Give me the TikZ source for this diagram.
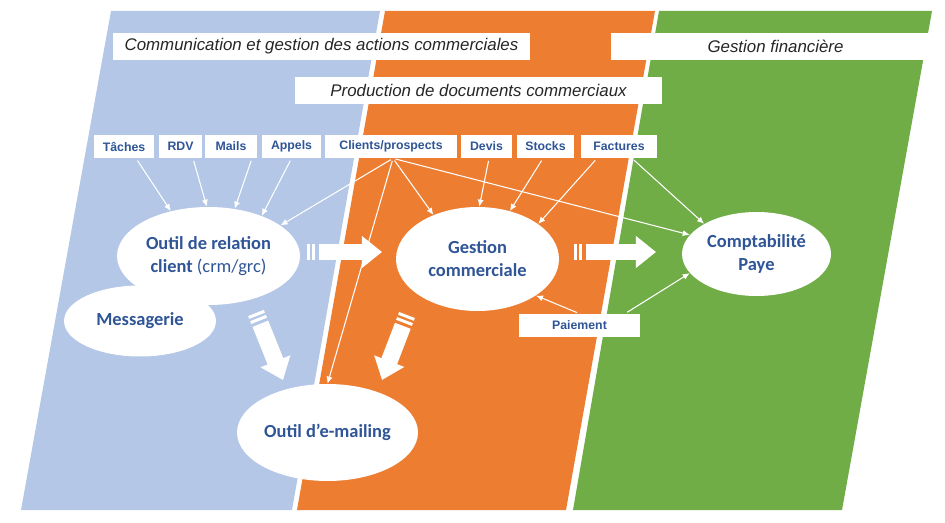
\documentclass[tikz,border=0pt]{standalone}
\usepackage{fontspec}
\setmainfont{Liberation Sans}
\newfontfamily\calibri{Carlito}
\usetikzlibrary{calc,arrows.meta,shapes.geometric}

\definecolor{bandblue}{HTML}{B4C7E7}
\definecolor{bandorange}{HTML}{ED7D31}
\definecolor{bandgreen}{HTML}{70AD47}
\definecolor{textblue}{HTML}{2F5597}
\definecolor{textgrey}{HTML}{262626}

\tikzset{
  header/.style={fill=white, text=textgrey, font=\fontsize{9.6}{11}\selectfont\itshape, minimum height=0.54cm, inner sep=0pt},
  tag/.style={fill=white, text=textblue, font=\fontsize{7}{8}\selectfont\bfseries, minimum height=0.46cm, inner sep=0pt},
  tool/.style={ellipse, fill=white, text=textblue, font=\calibri\fontsize{10.5}{13}\selectfont\bfseries, align=center, inner sep=0pt},
  link/.style={white, line width=0.6pt, shorten <=1.5pt, -{Latex[length=4pt,width=3.5pt]}},
  fat/.style={white, line width=9.6pt},
}

% big white arrow with two stripes at its tail
\newcommand{\fatarrow}[2]{%
  \draw[fat] (#1) -- ($(#1)!1.7pt!(#2)$);
  \draw[fat] ($(#1)!3.1pt!(#2)$) -- ($(#1)!4.8pt!(#2)$);
  \draw[fat,-{Triangle[width=17.6pt,length=11.5pt]}] ($(#1)!6.6pt!(#2)$) -- (#2);
}

\begin{document}
\begin{tikzpicture}[x=0.02cm, y=-0.02cm]
\useasboundingbox (0,0) rectangle (945,523);

% bands
\fill[bandblue] (111,11) -- (380,11) -- (292,510) -- (21,510) -- cycle;
\fill[bandorange] (385,11) -- (655,11) -- (566,510) -- (297,510) -- cycle;
\fill[bandgreen] (659,11) -- (932,11) -- (842,510) -- (573,510) -- cycle;

% headers
\node[header, minimum width=8.34cm] (comm) at (321.5,46.5) {Communication et gestion des actions commerciales};
\node[header, minimum width=6.58cm] (fin) at (775.5,46.5) {Gestion financière};
\node[header, minimum width=7.34cm] (prod) at (478.5,90.5) {Production de documents commerciaux};

% tools
\node[tool, minimum width=3.04cm, minimum height=1.42cm] (mess) at (140,321) {Messagerie};
\node[tool, minimum width=3.66cm, minimum height=1.96cm] (crm) at (208.5,256) {Outil de relation\\client {\mdseries(crm/grc)}};
\node[tool, minimum width=3.26cm, minimum height=2.08cm] (gestion) at (477.5,259) {Gestion\\commerciale};
\node[tool, minimum width=2.98cm, minimum height=1.68cm] (compta) at (756.5,254) {Comptabilité\\Paye};
\node[tool, minimum width=3.62cm, minimum height=1.94cm] (emailing) at (327.5,432.5) {Outil d’e-mailing};

% data
\node[tag, minimum width=1.2cm] (taches) at (124,146.5) {Tâches};
\node[tag, minimum width=0.86cm] (rdv) at (180.5,146.5) {RDV};
\node[tag, minimum width=1.04cm] (mails) at (231,146.5) {Mails};
\node[tag, minimum width=1.18cm] (appels) at (291.5,146.5) {Appels};
\node[tag, minimum width=2.64cm] (clients) at (391,146.5) {Clients/prospects};
\node[tag, minimum width=1.02cm] (devis) at (486.5,146.5) {Devis};
\node[tag, minimum width=1.14cm] (stocks) at (545.5,146.5) {Stocks};
\node[tag, minimum width=1.52cm] (factures) at (619,146.5) {Factures};
\node[tag, minimum width=2.42cm] (paiement) at (579.5,325.5) {Paiement};

% thin links
\draw[link] ([xshift=0.24cm]taches.south) -- (crm.130);
\draw[link] ([xshift=0.25cm]rdv.south) -- (crm.92);
\draw[link] ([xshift=0.42cm]mails.south) -- (crm.61);
\draw[link] (appels.south) -- (crm.37);
\draw[link] ([xshift=0.04cm]clients.south) -- (crm.23);
\draw[link] ([xshift=0.04cm]clients.south) -- (gestion.135);
\draw[link] ([xshift=0.04cm]clients.south) -- (emailing.90);
\draw[link] ([xshift=0.04cm]clients.south) -- (compta.164);
\draw[link] ([xshift=0.05cm]devis.south) -- (gestion.88);
\draw[link] ([xshift=-0.05cm]stocks.south) -- (gestion.56);
\draw[link] ([xshift=-0.44cm]factures.south) -- (gestion.30);
\draw[link] ([xshift=0.26cm]factures.south) -- (compta.150);
\draw[link] (paiement.north) -- (gestion.-32);
\draw[link] ([xshift=0.91cm]paiement.north) -- (compta.196);

% big arrows
\coordinate (fa1) at (307,252);
\coordinate (fb1) at (382,252);
\coordinate (fa2) at (574,252);
\coordinate (fb2) at (656,252);
\coordinate (fa3) at (256,313);
\coordinate (fb3) at (283,380);
\coordinate (fa4) at (407,315);
\coordinate (fb4) at (382,380);
\fatarrow{fa1}{fb1}
\fatarrow{fa2}{fb2}
\fatarrow{fa3}{fb3}
\fatarrow{fa4}{fb4}
\end{tikzpicture}
\end{document}
